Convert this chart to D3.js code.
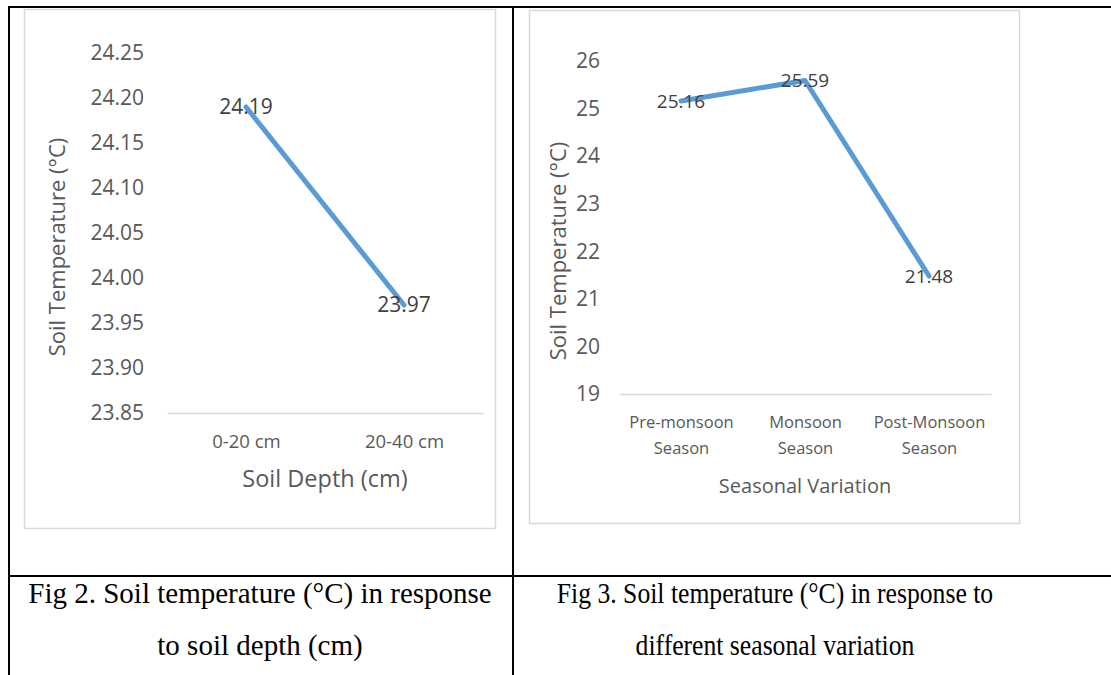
<!DOCTYPE html>
<html>
<head>
<meta charset="utf-8">
<script src="https://cdn.jsdelivr.net/npm/d3@7"></script>
<style>
  html, body { margin: 0; padding: 0; background: #fff; }
  svg { display: block; }
  .tick text { font-family: "Open Sans", sans-serif; fill: #595959; }
</style>
</head>
<body>
<svg id="fig" width="1111" height="675"></svg>
<script>
// Fig 2: soil temperature by depth
const depthCats = ["0-20 cm", "20-40 cm"];
const depthTemp = [24.19, 23.97];
const depthTicks = [23.85, 23.90, 23.95, 24.00, 24.05, 24.10, 24.15, 24.20, 24.25];

// Fig 3: soil temperature by season
const seasonCats = ["Pre-monsoon Season", "Monsoon Season", "Post-Monsoon Season"];
const seasonTemp = [25.16, 25.59, 21.48];
const seasonTicks = [19, 20, 21, 22, 23, 24, 25, 26];

const captions = [
  ["Fig 2. Soil temperature (\u00B0C) in response", "to soil depth (cm)"],
  ["Fig 3. Soil temperature (\u00B0C) in response to", "different seasonal variation"]
];

const svg = d3.select("#fig");
const LINE = "#5b9bd5";
const SANS = "'Open Sans', sans-serif";
const SERIF = "'Liberation Serif', 'Times New Roman', serif";

// ---- table frame ----
const frame = svg.append("g").attr("stroke", "#000").attr("stroke-width", 2);
frame.append("line").attr("x1", 8).attr("x2", 1111).attr("y1", 7).attr("y2", 7);
frame.append("line").attr("x1", 9).attr("x2", 9).attr("y1", 6).attr("y2", 675);
frame.append("line").attr("x1", 513).attr("x2", 513).attr("y1", 6).attr("y2", 675);
frame.append("line").attr("x1", 8).attr("x2", 1111).attr("y1", 576).attr("y2", 576);

// ---- chart drawing helper ----
function drawChart(cfg) {
  const g = svg.append("g");
  // chart area border
  g.append("rect")
    .attr("x", cfg.box[0] + 0.5).attr("y", cfg.box[1] + 0.5)
    .attr("width", cfg.box[2]).attr("height", cfg.box[3])
    .attr("fill", "#fff").attr("stroke", "#d9d9d9").attr("stroke-width", 1.5);

  const x = d3.scalePoint().domain(cfg.cats).range(cfg.xRange).padding(0.5);
  const y = d3.scaleLinear().domain(cfg.yDomain).range(cfg.yRange);

  // y axis labels
  const ya = g.append("g")
    .attr("transform", `translate(${cfg.xRange[0]},0)`)
    .call(d3.axisLeft(y).tickValues(cfg.ticks).tickFormat(d3.format(cfg.fmt))
      .tickSize(0).tickPadding(cfg.yPad));
  ya.select(".domain").remove();
  ya.selectAll("text").attr("font-size", cfg.yTickSize).style("font-family", SANS);

  // x axis with baseline
  const xa = g.append("g")
    .attr("transform", `translate(0,${cfg.yRange[0]})`)
    .call(d3.axisBottom(x).tickSize(0).tickSizeOuter(0));
  xa.select(".domain").attr("stroke", "#d9d9d9").attr("stroke-width", 1.5);
  xa.selectAll("text").each(function (d) {
    const t = d3.select(this).text(null)
      .attr("font-size", cfg.xTickSize).style("font-family", SANS)
      .attr("y", 0).attr("dy", null);
    const parts = cfg.wrap ? d.split(" ") : [d];
    parts.forEach((p, i) => {
      t.append("tspan").attr("x", 0)
        .attr("y", cfg.xLabelY + i * cfg.xLineGap)
        .attr("dy", "0.35em").text(p);
    });
  });

  // line
  const pts = cfg.cats.map((c, i) => [x(c), y(cfg.vals[i])]);
  g.append("path")
    .attr("d", d3.line()(pts))
    .attr("fill", "none").attr("stroke", LINE).attr("stroke-width", 5)
    .attr("stroke-linecap", "round").attr("stroke-linejoin", "round");

  // data labels centred on points
  g.selectAll(".dl").data(cfg.cats).join("text")
    .attr("class", "dl")
    .attr("x", d => x(d))
    .attr("y", (d, i) => y(cfg.vals[i]))
    .attr("dy", "0.35em")
    .attr("text-anchor", "middle")
    .attr("font-family", SANS).attr("font-size", cfg.dlSize)
    .attr("fill", "#404040")
    .text((d, i) => cfg.vals[i].toFixed(2));

  // axis titles
  g.append("text")
    .attr("x", (cfg.xRange[0] + cfg.xRange[1]) / 2 + cfg.xTitleDx)
    .attr("y", cfg.xTitleY).attr("dy", "0.35em")
    .attr("text-anchor", "middle")
    .attr("font-family", SANS).attr("font-size", cfg.xTitleSize).attr("fill", "#595959")
    .text(cfg.xTitle);
  g.append("text")
    .attr("transform", `translate(${cfg.yTitleX},${cfg.yTitleY}) rotate(-90)`)
    .attr("dy", "0.35em")
    .attr("text-anchor", "middle")
    .attr("font-family", SANS).attr("font-size", cfg.yTitleSize).attr("fill", "#595959")
    .text("Soil Temperature (\u00B0C)");
}

drawChart({
  box: [24, 9, 471, 519],
  cats: depthCats, vals: depthTemp, ticks: depthTicks,
  xRange: [167, 483], yDomain: [23.85, 24.25], yRange: [413, 53],
  fmt: ".2f", yPad: 23, yTickSize: 21, xTickSize: 18.5,
  xLabelY: 29, xLineGap: 0, wrap: false,
  dlSize: 21,
  xTitle: "Soil Depth (cm)", xTitleY: 479, xTitleDx: 0, xTitleSize: 23.5,
  yTitleX: 57, yTitleY: 247, yTitleSize: 22
});

drawChart({
  box: [529, 10, 490, 513],
  cats: seasonCats, vals: seasonTemp, ticks: seasonTicks,
  xRange: [619, 991], yDomain: [19, 26], yRange: [394, 61],
  fmt: "d", yPad: 19, yTickSize: 21, xTickSize: 16.5,
  xLabelY: 28, xLineGap: 26, wrap: true,
  dlSize: 19,
  xTitle: "Seasonal Variation", xTitleY: 486, xTitleDx: 0, xTitleSize: 20,
  yTitleX: 558, yTitleY: 251, yTitleSize: 22
});

// ---- captions (the right-hand cell's text is set condensed) ----
const capX = [260, 775];
const capScaleX = [1, 0.885];
captions.forEach((lines, k) => {
  lines.forEach((s, i) => {
    svg.append("text")
      .attr("transform", `translate(${capX[k]},${593 + i * 52}) scale(${capScaleX[k]},1)`)
      .attr("dy", "0.35em")
      .attr("text-anchor", "middle")
      .attr("font-family", SERIF).attr("font-size", 29).attr("fill", "#000")
      .text(s);
  });
});
</script>
</body>
</html>
